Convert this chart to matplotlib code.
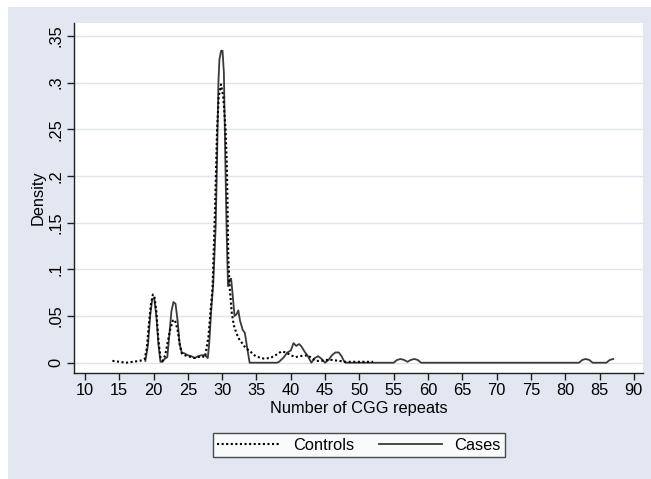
import matplotlib
matplotlib.use('Agg')
import matplotlib.pyplot as plt
from matplotlib.patches import Rectangle

plt.rcParams['font.family'] = ['Liberation Sans', 'DejaVu Sans']

# density curves (x = number of CGG repeats)
controls_x = [14.0, 15.0, 16.0, 17.0, 18.0, 18.7, 19.0, 19.3, 19.6, 19.9, 20.1, 20.4, 20.7, 21.0,
              21.3, 21.7, 22.0, 22.4, 22.8, 23.1, 23.5, 23.8, 24.1, 24.5, 25.0, 25.5, 26.0, 26.5,
              27.0, 27.5, 28.0, 28.3, 28.6, 28.95, 29.1, 29.25, 29.5, 29.83, 30.15, 30.5, 30.7,
              30.9, 31.1, 31.4, 31.7, 32.1, 32.5, 33.1, 33.5, 34.0, 34.5, 35.0, 36.0, 37.0, 38.0,
              38.6, 39.3, 40.0, 40.7, 41.3, 42.5, 43.0, 43.7, 44.5, 45.0, 46.0, 47.0, 48.0, 49.0,
              50.0, 51.0, 52.0]
controls_y = [0.002, 0.001, 0.000, 0.001, 0.002, 0.004, 0.015, 0.040, 0.062, 0.073, 0.072, 0.055,
              0.025, 0.006, 0.002, 0.008, 0.020, 0.035, 0.045, 0.046, 0.035, 0.020, 0.010, 0.008,
              0.007, 0.006, 0.005, 0.006, 0.007, 0.006, 0.028, 0.055, 0.081, 0.163, 0.206, 0.249,
              0.285, 0.298, 0.285, 0.249, 0.206, 0.110, 0.080, 0.053, 0.040, 0.031, 0.025, 0.019,
              0.015, 0.013, 0.009, 0.0065, 0.0045, 0.005, 0.009, 0.012, 0.011, 0.008, 0.006,
              0.007, 0.008, 0.005, 0.002, 0.002, 0.003, 0.003, 0.002, 0.001, 0.001, 0.001, 0.001,
              0.001]

cases_x = [18.8, 19.2, 19.5, 19.8, 20.1, 20.4, 20.7, 21.0, 21.3, 21.6, 22.0, 22.3, 22.6, 22.9,
           23.2, 23.5, 23.8, 24.1, 24.5, 25.0, 25.5, 26.0, 26.5, 27.0, 27.5, 27.9, 28.1, 28.4,
           28.7, 29.05, 29.25, 29.45, 29.6, 29.85, 30.05, 30.25, 30.45, 30.65, 30.85, 31.1, 31.3,
           31.5, 31.8, 32.1, 32.35, 32.6, 33.0, 33.3, 33.6, 34.0, 38.0, 38.3, 39.0, 39.5, 40.0,
           40.4, 40.8, 41.2, 41.5, 42.0, 42.5, 43.0, 43.5, 44.0, 44.5, 45.0, 45.5, 46.0, 46.5,
           47.0, 47.4, 47.8, 48.0, 55.0, 55.5, 56.0, 56.5, 57.0, 57.5, 58.0, 58.5, 59.0, 82.0,
           82.5, 83.0, 83.5, 84.0, 86.0, 86.5, 87.0]
cases_y = [0.002, 0.020, 0.050, 0.068, 0.069, 0.050, 0.020, 0.001, 0.001, 0.004, 0.006, 0.030,
           0.055, 0.065, 0.063, 0.045, 0.020, 0.011, 0.010, 0.008, 0.007, 0.005, 0.007, 0.008,
           0.008, 0.005, 0.020, 0.056, 0.085, 0.146, 0.217, 0.300, 0.325, 0.334, 0.334, 0.310,
           0.220, 0.140, 0.082, 0.089, 0.090, 0.075, 0.050, 0.052, 0.056, 0.045, 0.035, 0.032,
           0.018, 0.000, 0.000, 0.001, 0.006, 0.011, 0.013, 0.021, 0.018, 0.020, 0.018, 0.012,
           0.007, 0.000, 0.005, 0.007, 0.004, 0.000, 0.003, 0.008, 0.011, 0.011, 0.007, 0.001,
           0.000, 0.000, 0.003, 0.004, 0.003, 0.001, 0.003, 0.004, 0.003, 0.000, 0.000, 0.003,
           0.004, 0.003, 0.000, 0.000, 0.003, 0.004]

x_ticks = list(range(10, 95, 5))
y_ticks = [0, 0.05, 0.1, 0.15, 0.2, 0.25, 0.3, 0.35]
y_labels = ['0', '.05', '.1', '.15', '.2', '.25', '.3', '.35']

BG = '#e3e7f1'
GRID = '#dfe4ee'
FS = 11.8

W, H = 651, 479
fig = plt.figure(figsize=(W / 100, H / 100), dpi=100, facecolor='white')
fig.patches.append(Rectangle((8 / W, 0), 1 - 8 / W, 1 - 7 / H, transform=fig.transFigure,
                             facecolor=BG, edgecolor='none', zorder=-10))

ax = fig.add_axes([74 / W, (H - 373) / H, (643 - 74) / W, (373 - 23) / H])
ax.set_facecolor('white')

for yt in y_ticks:
    ax.axhline(yt, color=GRID, lw=1.0, zorder=0)

ax.plot(controls_x, controls_y, color='black', lw=1.5, ls=(0, (1, 1.2)), label='Controls', zorder=3)
ax.plot(cases_x, cases_y, color='#3a3a3a', lw=1.3, ls='-', label='Cases', zorder=2)

ax.set_xlim(8.4, 91.34)
ax.set_ylim(-0.011, 0.3637)
ax.set_xticks(x_ticks)
ax.set_yticks(y_ticks)
ax.set_yticklabels(y_labels, rotation=90, va='center')

for s in ['top', 'right']:
    ax.spines[s].set_visible(False)
for s in ['left', 'bottom']:
    ax.spines[s].set_color('#202020')
    ax.spines[s].set_linewidth(1.0)
ax.tick_params(direction='out', length=5, width=1, color='#202020', labelsize=FS, pad=2.5)

ax.set_xlabel('Number of CGG repeats', fontsize=FS, labelpad=1.5)
ax.set_ylabel('Density', fontsize=FS, labelpad=2)

leg = fig.legend(loc='center', bbox_to_anchor=((212.7 + 505) / 2 / W, 1 - 445 / H), ncol=2,
                 fontsize=FS, frameon=True, fancybox=False, handlelength=3.9, handletextpad=0.7,
                 columnspacing=1.5, borderpad=0.3)
leg.get_frame().set_edgecolor('#202020')
leg.get_frame().set_linewidth(1.0)
leg.get_frame().set_facecolor('white')

fig.savefig('out.png', dpi=100, facecolor=fig.get_facecolor())
